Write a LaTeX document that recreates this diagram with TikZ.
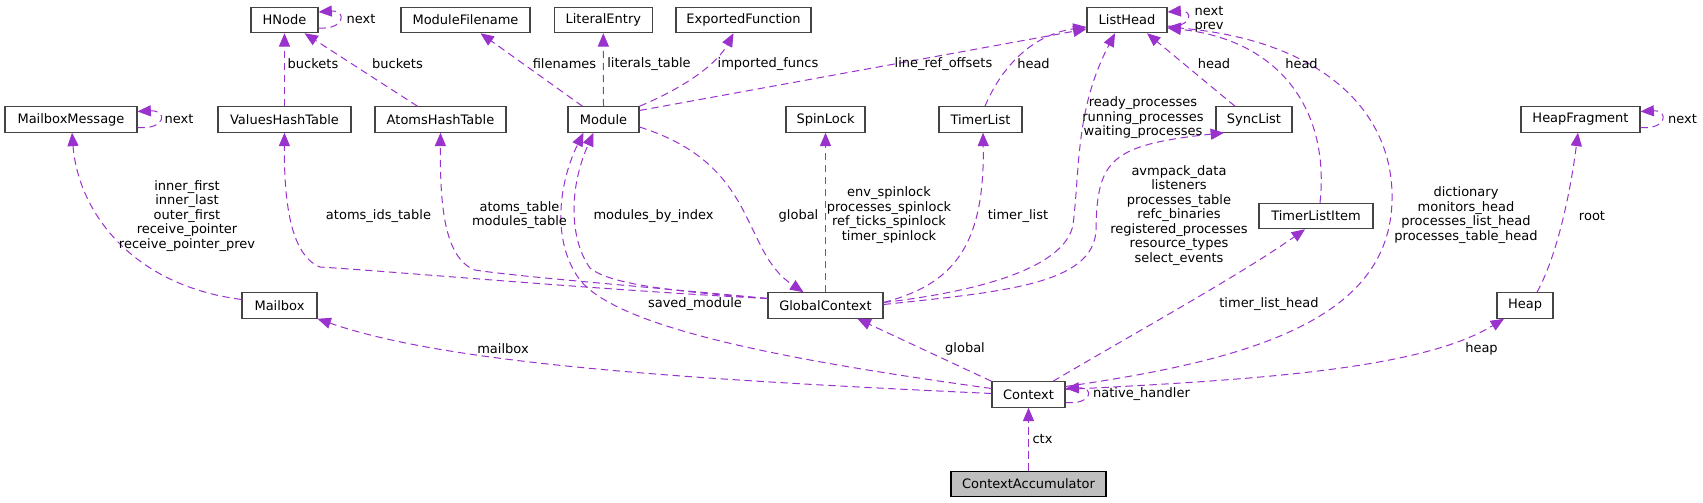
\documentclass[tikz,border=0pt]{standalone}
\usepackage{fontspec}
\setmainfont{DejaVu Sans}
\usetikzlibrary{arrows.meta,calc}
\definecolor{edgec}{HTML}{9A32CD}
\definecolor{boxc}{HTML}{444444}
\definecolor{rootfill}{HTML}{BFBFBF}
\newcommand\lblfont{\fontsize{9.75pt}{10.9pt}\selectfont}
\begin{document}
\begin{tikzpicture}[x=0.75pt,y=-0.75pt,
  cls/.style={draw=boxc, line width=0.8pt, fill=white, minimum height=19.1pt, inner sep=0pt, font=\lblfont, text=black},
  wd/.style={minimum width=#1*0.75pt},
  edge/.style={draw=edgec, line width=0.75pt, dash pattern=on 5.5pt off 3.5pt, -{Triangle[length=10pt,width=8.3pt,fill=edgec]}},
  lbl/.style={font=\lblfont, align=center, inner sep=0pt, text=black}
]
\fill[white] (0,0) rectangle (1703,503);
\useasboundingbox (0,0) rectangle (1703,503);

% nodes
\node[cls,wd=67]  (hnode)     at (284.5,20)  {HNode};
\node[cls,wd=129] (modfile)   at (465.5,20)  {ModuleFilename};
\node[cls,wd=98]  (litentry)  at (603.3,20)  {LiteralEntry};
\node[cls,wd=135] (expfunc)   at (743.5,20)  {ExportedFunction};
\node[cls,wd=80]  (listhead)  at (1127,20)   {ListHead};
\node[cls,wd=132] (mbmsg)     at (71,119.5)  {MailboxMessage};
\node[cls,wd=133] (vht)       at (284.5,119.5) {ValuesHashTable};
\node[cls,wd=131] (aht)       at (440.5,119.5) {AtomsHashTable};
\node[cls,wd=71]  (module)    at (603.5,119.5) {Module};
\node[cls,wd=79]  (spinlock)  at (825.5,119.5) {SpinLock};
\node[cls,wd=83]  (timerlist) at (980.5,119.5) {TimerList};
\node[cls,wd=76]  (synclist)  at (1254,119.5) {SyncList};
\node[cls,wd=119] (heapfrag)  at (1580.5,119.5) {HeapFragment};
\node[cls,wd=114] (tli)       at (1316,216)  {TimerListItem};
\node[cls,wd=75]  (mailbox)   at (279.5,305.5) {Mailbox};
\node[cls,wd=115] (gctx)      at (825.5,305.5) {GlobalContext};
\node[cls,wd=56]  (heap)      at (1525,305.5) {Heap};
\node[cls,wd=73]  (context)   at (1028.5,394.5) {Context};
\node[cls,wd=155,fill=rootfill,draw=black] (ctxacc) at (1028.5,484) {ContextAccumulator};

% self loops
\draw[edge] ([shift={(0,8)}]hnode.east) .. controls (345,30) and (347,10) .. ([shift={(0,-8)}]hnode.east);
\draw[edge] ([shift={(0,8)}]mbmsg.east) .. controls (166,130) and (168,110) .. ([shift={(0,-8)}]mbmsg.east);
\draw[edge] ([shift={(0,8)}]heapfrag.east) .. controls (1667,130) and (1669,110) .. ([shift={(0,-8)}]heapfrag.east);
\draw[edge] ([shift={(0,6)}]listhead.east) .. controls (1192,28) and (1194,10) .. ([shift={(0,-8)}]listhead.east);
\draw[edge] ([shift={(0,8)}]context.east) .. controls (1092,405) and (1095,387) .. ([shift={(0,-6)}]context.east);

% top edges
\draw[edge] (vht.north) -- (hnode.south);
\draw[edge] ([shift={(-23,0)}]aht.north) -- ([shift={(20,0)}]hnode.south);
\draw[edge] ([shift={(-21,0)}]module.north) -- ([shift={(15,0)}]modfile.south);
\draw[edge] (module.north) -- (litentry.south);
\draw[edge] (module.north east) .. controls (690,85) and (718,62) .. ([shift={(-10,0)}]expfunc.south);
\draw[edge] ([shift={(0,-9)}]module.east) -- ([shift={(0,9)}]listhead.west);
\draw[edge] ([shift={(4.5,0)}]timerlist.north) .. controls (1000,70) and (1030,35) .. ([shift={(0,7)}]listhead.west);
\draw[edge] ([shift={(-19,0)}]synclist.north) -- ([shift={(20,0)}]listhead.south);
\draw[edge] ([shift={(4,0)}]tli.north) .. controls (1330,110) and (1280,40) .. ([shift={(0,8)}]listhead.east);
\draw[edge] ([shift={(0,-8)}]context.east) .. controls (1250,360) and (1390,320) .. (1392,200)
   .. controls (1394,110) and (1320,40) .. ([shift={(0,7)}]listhead.east);

% mailbox
\draw[edge] ([shift={(0,-6)}]mailbox.west) .. controls (130,285) and (78,210) .. ([shift={(1,0)}]mbmsg.south);
\draw[edge] ([shift={(0,-1)}]context.west) .. controls (700,380) and (450,365) .. (mailbox.south east);

% global context edges
\draw[edge] ([shift={(0,-7)}]gctx.west) .. controls (600,290) and (400,272) .. (320,267)
   .. controls (290,255) and (284,200) .. (vht.south);
\draw[edge] ([shift={(0,-7)}]gctx.west) .. controls (650,287) and (520,277) .. (475,270)
   .. controls (443,258) and (440,200) .. (aht.south);
\draw[edge] ([shift={(0,-7)}]gctx.west) .. controls (680,292) and (610,285) .. (590,268)
   .. controls (570,240) and (568,190) .. ([shift={(-10,0)}]module.south);
\draw[edge] ([shift={(0,-6)}]context.west) .. controls (800,362) and (620,330) .. (580,280)
   .. controls (550,240) and (560,180) .. ([shift={(-20,0)}]module.south);
\draw[edge] ([shift={(0,7.5)}]module.east) .. controls (760,165) and (740,250) .. ([shift={(-22,0)}]gctx.north);
\draw[edge] (gctx.north) -- (spinlock.south);
\draw[edge] ([shift={(0,-3)}]gctx.east) .. controls (950,285) and (985,250) .. ([shift={(2.5,0)}]timerlist.south);
\draw[edge] ([shift={(0,-3)}]gctx.east) .. controls (990,290) and (1065,265) .. (1073,225)
   .. controls (1080,170) and (1075,110) .. ([shift={(-12,0)}]listhead.south);
\draw[edge] ([shift={(0,-1)}]gctx.east) .. controls (1000,292) and (1094,285) .. (1096,230)
   .. controls (1097,160) and (1110,145) .. ([shift={(-30,0)}]synclist.south);

% context edges
\draw[edge] (context.north west) -- ([shift={(32,0)}]gctx.south);
\draw[edge] ([shift={(24.5,0)}]context.north) .. controls (1140,330) and (1240,275) .. ([shift={(-11,0)}]tli.south);
\draw[edge] ([shift={(0,-5)}]context.east) .. controls (1250,380) and (1420,370) .. ([shift={(-21,0)}]heap.south);
\draw[edge] ([shift={(12,0)}]heap.north) .. controls (1560,250) and (1572,180) .. ([shift={(-2.5,0)}]heapfrag.south);
\draw[edge] (ctxacc.north) -- (context.south);

% labels
\node[lbl] (l1) at (361,19) {next};
\node[lbl] (l2) at (313,64) {buckets};
\node[lbl] (l3) at (397.5,64) {buckets};
\node[lbl] (l4) at (564.5,64) {filenames};
\node[lbl] (l5) at (649,64) {literals\_table};
\node[lbl] (l6) at (768,64) {imported\_funcs};
\node[lbl] (l7) at (943.5,64) {line\_ref\_offsets};
\node[lbl] (l8) at (1033.5,64) {head};
\node[lbl] (l9) at (1214,64) {head};
\node[lbl] (l10) at (1301.5,64) {head};
\node[lbl] (l11) at (1209,19.5) {next\\prev};
\node[lbl] (l12) at (179,119) {next};
\node[lbl] (l13) at (1682.5,119) {next};
\node[lbl] (l14) at (187,216) {inner\_first\\inner\_last\\outer\_first\\receive\_pointer\\receive\_pointer\_prev};
\node[lbl] (l15) at (378.5,216) {atoms\_ids\_table};
\node[lbl] (l16) at (519.5,215) {atoms\_table\\modules\_table};
\node[lbl] (l17) at (653.5,216) {modules\_by\_index};
\node[lbl] (l18) at (798.5,216) {global};
\node[lbl] (l19) at (889,215) {env\_spinlock\\processes\_spinlock\\ref\_ticks\_spinlock\\timer\_spinlock};
\node[lbl] (l20) at (1018,216) {timer\_list};
\node[lbl] (l21) at (1143,118) {ready\_processes\\running\_processes\\waiting\_processes};
\node[lbl] (l22) at (1179,215.5) {avmpack\_data\\listeners\\processes\_table\\refc\_binaries\\registered\_processes\\resource\_types\\select\_events};
\node[lbl] (l23) at (1466,215) {dictionary\\monitors\_head\\processes\_list\_head\\processes\_table\_head};
\node[lbl] (l24) at (1592,216) {root};
\node[lbl] (l25) at (695,304) {saved\_module};
\node[lbl] (l26) at (1269,304) {timer\_list\_head};
\node[lbl] (l27) at (503,349) {mailbox};
\node[lbl] (l28) at (965,349) {global};
\node[lbl] (l29) at (1481.5,349) {heap};
\node[lbl] (l30) at (1141.5,394) {native\_handler};
\node[lbl] (l31) at (1042.5,439) {ctx};
\end{tikzpicture}
\end{document}
